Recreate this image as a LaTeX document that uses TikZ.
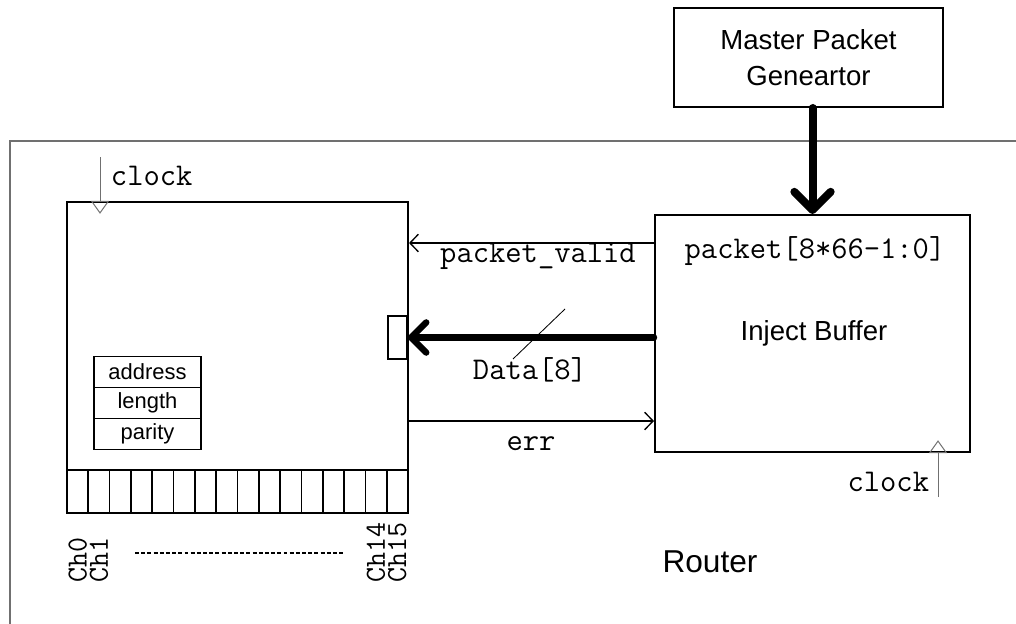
\documentclass[tikz,border=0pt]{standalone}
\usepackage{fontspec}
\setmainfont{Liberation Sans}
\usetikzlibrary{arrows.meta, positioning, calc}
\definecolor{framegray}{RGB}{112,112,112}

\begin{document}
\begin{tikzpicture}[
    x=0.025cm, y=-0.025cm,
    block/.style={draw, line width=1.4pt, minimum width=#1, inner sep=0pt},
    cell/.style={draw, line width=1.2pt, minimum width=0.5328cm, minimum height=1.075cm, inner sep=0pt},
    field/.style={draw, line width=1.2pt, minimum width=2.675cm, minimum height=0.775cm, inner sep=0pt, font=\fontsize{15.6}{18}\selectfont},
    mono/.style={font=\ttfamily\fontsize{22.5}{25}\selectfont},
    chlabel/.style={font=\ttfamily\fontsize{20.7}{23}\selectfont, rotate=90, anchor=west, inner sep=0pt},
    sig/.style={line width=0.95pt, -{Straight Barb[length=6pt, width=12.5pt]}},
    bus/.style={line width=#1, line cap=round, -{Straight Barb[round]}},
    clk/.style={draw=framegray, line width=0.7pt, shorten >=-0.32cm, -{Triangle[open, length=0.32cm, width=0.45cm]}}
]
    \useasboundingbox (0,0) rectangle (1016,623);
    \clip (0,0) rectangle (1016,623);

    % Router frame
    \draw[framegray, line width=0.8pt] (10,141) rectangle (1040,660);
    \node[font=\fontsize{22.5}{26}\selectfont] (router) at (710,562) {Router};

    % Master packet generator
    \node[block=6.725cm, minimum height=2.475cm, align=center, font=\fontsize{19.6}{25.5}\selectfont] (mpg) at (808.5,57.5) {Master Packet\\Geneartor};

    % Inject buffer
    \node[block=7.875cm, minimum height=5.925cm] (ib) at (812.5,333.5) {};
    \node[font=\fontsize{19.6}{22}\selectfont] (iblabel) at (814,333) {Inject Buffer};
    \node[mono] (pktlabel) at (815,251) {packet[8*66-1:0]};

    % Packet receiver with channels
    \node[block=8.525cm, minimum height=6.7cm] (rx) at (237.5,336) {};
    \node[field] (addr) at (147.5,372) {address};
    \node[field] (len) at (147.5,403) {length};
    \node[field] (par) at (147.5,434) {parity};
    \node[draw, line width=1.3pt, minimum width=0.475cm, minimum height=1.075cm, inner sep=0pt] (port) at (397.5,337.5) {};
    \foreach \i in {0,...,15}
        \node[cell] (ch\i) at ({67+21.3125*(\i+0.5)},491.5) {};
    \foreach \i in {0,1,14,15}
        \node[chlabel] (lch\i) at (ch\i.south |- 0,583) {Ch\i};
    \draw[line width=0.8pt, dash pattern=on 2.8pt off 1.6pt] (135,553) -- (345,553);

    % Clocks
    \coordinate (clkL) at (100,157);
    \coordinate (clkR) at (938,497);
    \draw[clk] (clkL) -- (clkL |- rx.north);
    \draw[clk] (clkR) -- (clkR |- ib.south);
    \node[mono, anchor=west] (clkLlabel) at (106,176) {clock};
    \node[mono, anchor=east] (clkRlabel) at (934,482) {clock};

    % Connections
    \draw[bus=5.7pt] (mpg.south -| ib.north) -- (ib.north);
    \draw[sig] (ib.west |- 0,243) -- (rx.east |- 0,243);
    \node[mono] (pvlabel) at (538,256) {packet\_valid};
    \draw[bus=4.6pt] (ib.west |- port.east) -- (port.east);
    \draw[line width=0.6pt] (513,359) -- (565,309);
    \node[mono] (datalabel) at (530,370) {Data[8]};
    \draw[sig] (rx.east |- 0,421) -- (ib.west |- 0,421);
    \node[mono] (errlabel) at (531,444) {err};
\end{tikzpicture}
\end{document}
